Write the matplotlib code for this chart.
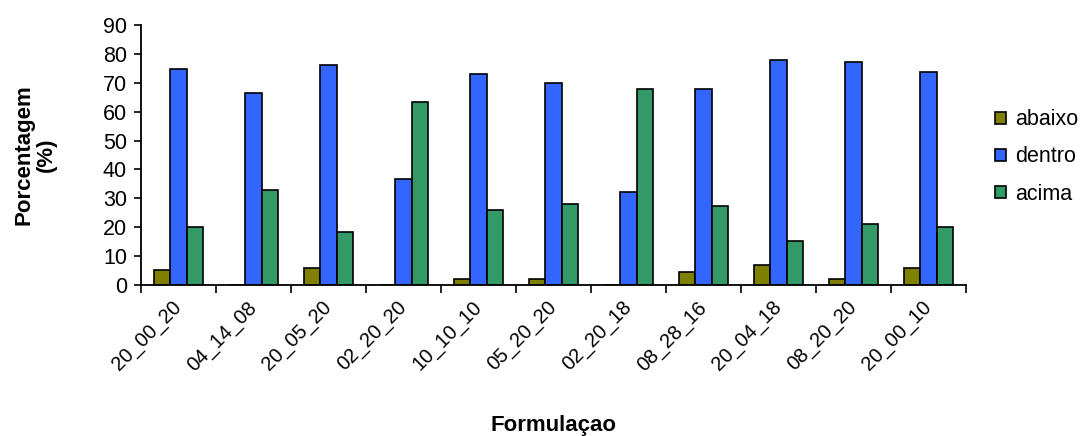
import numpy as np
import matplotlib.pyplot as plt
import matplotlib.transforms as mtransforms

# dados
formulacoes = ["20_00_20", "04_14_08", "20_05_20", "02_20_20", "10_10_10", "05_20_20",
               "02_20_18", "08_28_16", "20_04_18", "08_20_20", "20_00_10"]
abaixo = [5.2, 0, 5.8, 0, 2.0, 2.0, 0, 4.5, 6.9, 2.0, 5.8]
dentro = [74.8, 66.6, 76.0, 36.7, 72.9, 69.8, 32.3, 67.8, 77.9, 77.3, 73.6]
acima = [20.2, 32.9, 18.5, 63.5, 26.0, 27.9, 67.8, 27.2, 15.3, 21.0, 20.2]

series = ["abaixo", "dentro", "acima"]
cores = ["#808000", "#3366FF", "#339966"]

plt.rcParams['font.family'] = ['Liberation Sans', 'DejaVu Sans']

fig = plt.figure(figsize=(10.85, 4.36), dpi=100)
ax = fig.add_axes([141 / 1085, 1 - 285 / 436, 825 / 1085, 260 / 436])

x = np.arange(len(formulacoes))
w = 0.22
for i, (nome, vals) in enumerate(zip(series, [abaixo, dentro, acima])):
    ax.bar(x + (i - 1) * w, vals, w, color=cores[i], edgecolor='black',
           linewidth=1.2, label=nome)

ax.set_xlim(-0.5, len(formulacoes) - 0.5)
ax.set_ylim(0, 90)
ax.set_yticks(np.arange(0, 91, 10))

ax.set_xticks(x)
ax.set_xticklabels(formulacoes, rotation=45, ha='right', va='center',
                   rotation_mode='anchor', fontsize=14.5)
# desloca os rotulos um pouco para a esquerda
desloc = mtransforms.ScaledTranslation(-10 / 100, 0, fig.dpi_scale_trans)
for lbl in ax.get_xticklabels():
    lbl.set_transform(lbl.get_transform() + desloc)
ax.set_xticks(np.arange(-0.5, len(formulacoes)), minor=True)
ax.tick_params(axis='x', which='major', length=0, pad=14)
ax.tick_params(axis='x', which='minor', length=6, width=1.2, direction='out')
ax.tick_params(axis='y', length=5, width=1.2, labelsize=15.5, pad=5)

for s in ['top', 'right']:
    ax.spines[s].set_visible(False)
for s in ['left', 'bottom']:
    ax.spines[s].set_linewidth(1.3)

ax.set_ylabel("Porcentagem\n(%)", fontsize=16, fontweight='bold', linespacing=1.1)
ax.yaxis.set_label_coords(-0.102, 0.5)
fig.text(554 / 1085, 1 - 425 / 436, "Formulaçao", fontsize=16, fontweight='bold',
         ha='center', va='center')

fig.legend(loc='center left', bbox_to_anchor=(984 / 1085, 1 - 157 / 436),
           frameon=False, fontsize=15.5, handlelength=0.5, handleheight=0.5,
           handletextpad=0.45, labelspacing=0.75, borderpad=0)

fig.savefig("out.png", dpi=100)
